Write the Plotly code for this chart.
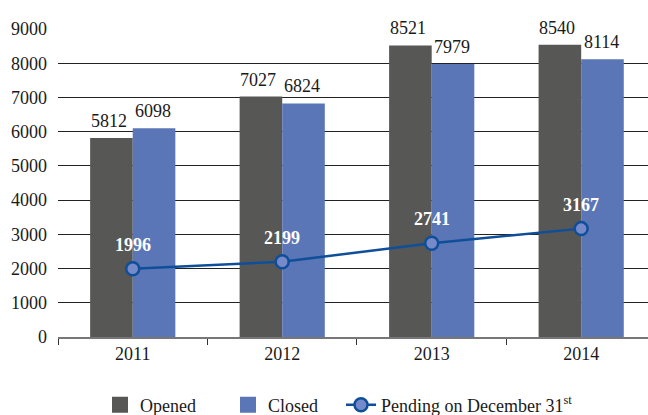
import plotly.graph_objects as go

years = ["2011", "2012", "2013", "2014"]
opened = [5812, 7027, 8521, 8540]
closed = [6098, 6824, 7979, 8114]
pending = [1996, 2199, 2741, 3167]
y_ticks = [0, 1000, 2000, 3000, 4000, 5000, 6000, 7000, 8000, 9000]

FONT = "Liberation Serif, DejaVu Serif, serif"
TXT = "#1a1a1a"
C_OPEN = "#575755"
C_CLOSE = "#5b76b7"
C_LINE = "#0f4f9a"
C_MARK = "#7689c8"

fig = go.Figure()
fig.add_trace(go.Bar(x=years, y=opened, name="Opened", showlegend=False,
                     marker=dict(color=C_OPEN, line=dict(width=0))))
fig.add_trace(go.Bar(x=years, y=closed, name="Closed", showlegend=False,
                     marker=dict(color=C_CLOSE, line=dict(width=0))))
fig.add_trace(go.Scatter(
    x=years, y=pending, name="Pending on December 31<sup>st</sup>", mode="lines+markers",
    line=dict(color=C_LINE, width=2.5),
    marker=dict(size=13, color=C_MARK, line=dict(color=C_LINE, width=2.5)),
    cliponaxis=False, legend="legend3",
))
# legend swatches for bars
fig.add_trace(go.Scatter(x=[None], y=[None], mode="markers", name="Opened",
                         marker=dict(symbol="square", size=20, color=C_OPEN), legend="legend"))
fig.add_trace(go.Scatter(x=[None], y=[None], mode="markers", name="Closed",
                         marker=dict(symbol="square", size=20, color=C_CLOSE), legend="legend2"))

# value labels (x given as category index)
for i, v in enumerate(opened):
    fig.add_annotation(x=i, y=v, text=str(v), showarrow=False, xshift=-24, yshift=5,
                       yanchor="bottom", font=dict(family=FONT, size=18, color=TXT))
for i, v in enumerate(closed):
    fig.add_annotation(x=i, y=v, text=str(v), showarrow=False, xshift=20, yshift=5,
                       yanchor="bottom", font=dict(family=FONT, size=18, color=TXT))
for i, v in enumerate(pending):
    fig.add_annotation(x=i, y=v, text="<b>%d</b>" % v, showarrow=False, yshift=24,
                       yanchor="middle", font=dict(family=FONT, size=18, color="white"))

leg = dict(orientation="h", y=-0.221, yanchor="middle", xanchor="left",
           font=dict(family=FONT, size=18, color=TXT), itemsizing="trace",
           bgcolor="rgba(0,0,0,0)")
fig.update_layout(
    width=648, height=415,
    margin=dict(l=58, r=0, t=29, b=78, autoexpand=False),
    paper_bgcolor="white", plot_bgcolor="white",
    font=dict(family=FONT, size=18, color=TXT),
    barmode="group", bargap=0.43, bargroupgap=0,
    showlegend=True,
    legend=dict(leg, x=(100 - 58) / 590),
    legend2=dict(leg, x=(228 - 58) / 590),
    legend3=dict(leg, x=(341 - 58) / 590),
)
fig.update_xaxes(
    type="category", range=[-0.5, 3.447], showgrid=False,
    showline=True, linecolor="#777777", linewidth=1.5,
    ticks="outside", tickson="boundaries", ticklen=6, tickcolor="#333333",
    tickfont=dict(family=FONT, size=18, color=TXT),
)
fig.update_yaxes(
    range=[0, 9000], tickvals=y_ticks, showgrid=True, gridcolor="#222222", gridwidth=1,
    zeroline=False, showline=False, ticks="", ticklabelstandoff=10, automargin=False,
    tickfont=dict(family=FONT, size=18, color=TXT),
)
fig.write_html("out.html", config={"displayModeBar": False},
               post_script="document.body.style.margin='0';document.body.style.overflow='hidden';")
